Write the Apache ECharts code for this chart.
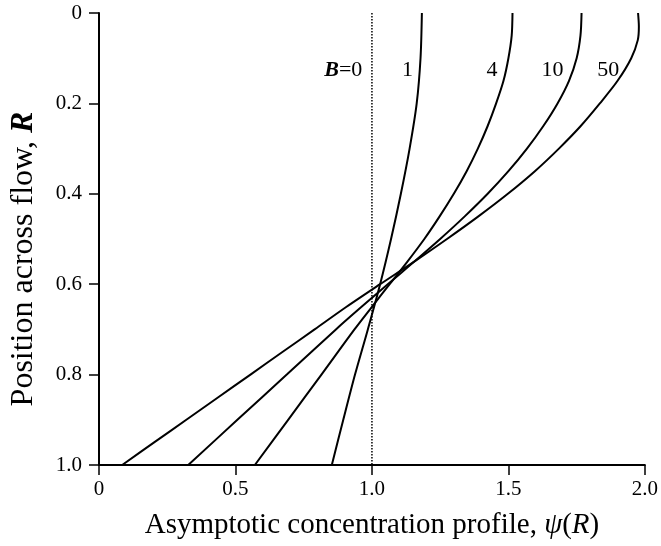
<!DOCTYPE html>
<html>
<head>
<meta charset="utf-8">
<script src="https://cdn.jsdelivr.net/npm/echarts@6/dist/echarts.min.js"></script>
<style>
  html, body { margin: 0; padding: 0; background: #fff; }
  #chart { width: 661px; height: 546px; }
</style>
</head>
<body>
<div id="chart"></div>
<script>
// R positions (y axis, 0 at top) and psi(R) for each B
const rB1 = [0, 0.1, 0.2, 0.3, 0.4, 0.5, 0.6, 0.7, 0.8, 0.9, 1.0]
const psiB1 = [1.183, 1.178, 1.164, 1.138, 1.106, 1.07, 1.03, 0.985, 0.938, 0.895, 0.853]

const rB4 = [0, 0.05, 0.1, 0.15, 0.2, 0.25, 0.3, 0.35, 0.4, 0.45, 0.5, 0.55, 0.6, 0.65, 0.7, 0.8, 0.9, 1.0]
const psiB4 = [1.515, 1.512, 1.5, 1.482, 1.455, 1.424, 1.388, 1.347, 1.3, 1.248, 1.192, 1.13, 1.065, 1.0, 0.936, 0.815, 0.693, 0.571]

const rB10 = [0, 0.05, 0.1, 0.15, 0.2, 0.25, 0.3, 0.35, 0.4, 0.45, 0.5, 0.55, 0.6, 0.65, 0.7, 0.8, 0.9, 1.0]
const psiB10 = [1.768, 1.764, 1.75, 1.722, 1.68, 1.628, 1.568, 1.5, 1.424, 1.34, 1.25, 1.155, 1.058, 0.962, 0.868, 0.688, 0.507, 0.327]

const rB50 = [0, 0.03, 0.06, 0.1, 0.15, 0.2, 0.25, 0.3, 0.35, 0.4, 0.45, 0.5, 0.55, 0.6, 0.65, 0.7, 0.75, 0.8, 0.85, 0.9, 0.95, 1.0]
const psiB50 = [1.975, 1.978, 1.974, 1.95, 1.9, 1.835, 1.765, 1.685, 1.597, 1.498, 1.39, 1.275, 1.155, 1.03, 0.907, 0.79, 0.672, 0.555, 0.437, 0.32, 0.202, 0.085]

// B = 0 is uniform: psi = 1 everywhere
const rB0 = [0, 1.0]
const psiB0 = [1.0, 1.0]

const curveNames = ['B=0', '1', '4', '10', '50']

const serif = 'Liberation Serif'

function pairs (xs, ys) {
  return xs.map((x, i) => [x, ys[i]])
}

function tickLabel (v) {
  return v === 0 ? '0' : v.toFixed(1)
}

// where the curve labels sit, in data units
const labelAt = {
  'B=0': [0.895, 0.127],
  '1': [1.13, 0.127],
  '4': [1.44, 0.127],
  '10': [1.662, 0.127],
  '50': [1.866, 0.127]
}

function curve (name, xs, ys, dotted) {
  return {
    name: name,
    type: 'line',
    data: pairs(xs, ys),
    showSymbol: false,
    smooth: dotted ? false : 0.3,
    lineStyle: { color: '#000', width: dotted ? 1.5 : 2, type: dotted ? [1.5, 1.5] : 'solid' },
    silent: true,
    animation: false,
    markPoint: {
      symbol: 'circle',
      symbolSize: 0,
      silent: true,
      label: {
        show: true,
        position: 'inside',
        formatter: name === 'B=0' ? '{i|B}=0' : name,
        fontFamily: serif,
        fontSize: 22,
        color: '#000',
        rich: { i: { fontFamily: serif, fontStyle: 'italic', fontWeight: 'bold', fontSize: 22, color: '#000' } }
      },
      data: [{ coord: labelAt[name] }]
    }
  }
}

const chart = echarts.init(document.getElementById('chart'), null, { renderer: 'canvas' })

chart.setOption({
  backgroundColor: '#fff',
  animation: false,
  grid: { left: 98, right: 14, top: 13, bottom: 81, containLabel: false },
  xAxis: {
    type: 'value',
    min: 0,
    max: 2.0,
    interval: 0.5,
    name: '{n|Asymptotic concentration profile, }{i|ψ}{n|(}{i|R}{n|)}',
    nameLocation: 'middle',
    nameGap: 46,
    nameTextStyle: {
      rich: {
        n: { fontFamily: serif, fontSize: 29, color: '#000' },
        i: { fontFamily: serif, fontSize: 29, fontStyle: 'italic', color: '#000' }
      }
    },
    axisLine: { onZero: false, lineStyle: { color: '#000', width: 2 } },
    axisTick: { length: 10, lineStyle: { color: '#000', width: 1.5 } },
    axisLabel: { formatter: tickLabel, fontFamily: serif, fontSize: 21, color: '#000', margin: 14 },
    splitLine: { show: false }
  },
  yAxis: {
    type: 'value',
    inverse: true,
    min: 0,
    max: 1.0,
    interval: 0.2,
    name: '{n|Position across flow, }{i|R}',
    nameLocation: 'middle',
    nameRotate: 90,
    nameGap: 59,
    nameTextStyle: {
      padding: [0, 40, 0, 0],
      rich: {
        n: { fontFamily: serif, fontSize: 32, color: '#000' },
        i: { fontFamily: serif, fontSize: 32, fontStyle: 'italic', fontWeight: 'bold', color: '#000' }
      }
    },
    axisLine: { onZero: false, lineStyle: { color: '#000', width: 2 } },
    axisTick: { length: 10, lineStyle: { color: '#000', width: 1.5 } },
    axisLabel: { formatter: tickLabel, fontFamily: serif, fontSize: 21, color: '#000', margin: 17 },
    splitLine: { show: false }
  },
  series: [
    curve(curveNames[0], psiB0, rB0, true),
    curve(curveNames[1], psiB1, rB1, false),
    curve(curveNames[2], psiB4, rB4, false),
    curve(curveNames[3], psiB10, rB10, false),
    curve(curveNames[4], psiB50, rB50, false)
  ]
})
</script>
</body>
</html>
